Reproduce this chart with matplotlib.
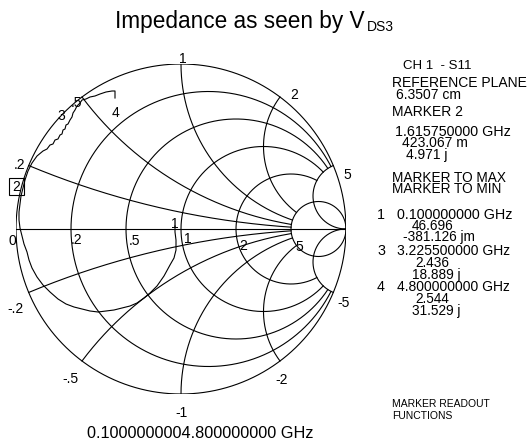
import matplotlib
matplotlib.use("Agg")
import matplotlib.pyplot as plt
import numpy as np
from matplotlib.patches import Rectangle

# ---------------- data ----------------
resistance_values = [0.2, 0.5, 1, 2]      # clipped at |x| <= grid_limit
reactance_values = [0.2, 0.5, 1, 2]       # clipped at r <= grid_limit
grid_limit = 5                             # r = 5 circle and x = +/-5 arcs drawn full

# measured S11 locus (reflection coefficient, real / imaginary)
trace_re = [-0.0364, -0.0364, -0.0303, -0.0303, -0.0424, -0.0667, -0.1030, -0.1455,
            -0.1879, -0.2242, -0.2667, -0.3091, -0.3576, -0.4061, -0.4545, -0.5030,
            -0.5515, -0.6000, -0.6485, -0.6970, -0.7455, -0.7939, -0.8364, -0.8727,
            -0.9030, -0.9212, -0.9333, -0.9515, -0.9636, -0.9758, -0.9818, -0.9818,
            -0.9758, -0.9697, -0.9576, -0.9455, -0.9273, -0.9030, -0.8727, -0.8364,
            -0.8121, -0.7939, -0.7758, -0.7636, -0.7455, -0.7333, -0.7212, -0.7152,
            -0.7030, -0.6970, -0.6848, -0.6727, -0.6606, -0.6545, -0.6424, -0.6303,
            -0.6121, -0.6000, -0.5758, -0.5515, -0.5212, -0.4909, -0.4545, -0.4182,
            -0.4000, -0.4000]
trace_im = [0.0182, -0.0182, -0.0667, -0.1273, -0.1758, -0.2182, -0.2848, -0.3455,
            -0.3879, -0.4182, -0.4485, -0.4667, -0.4788, -0.4909, -0.4970, -0.5030,
            -0.4970, -0.4848, -0.4727, -0.4545, -0.4242, -0.3818, -0.3394, -0.2909,
            -0.2364, -0.1879, -0.1394, -0.0909, -0.0424, 0.0061, 0.0545, 0.1030,
            0.1515, 0.2000, 0.2485, 0.2970, 0.3515, 0.4000, 0.4424, 0.4727,
            0.4848, 0.5091, 0.5152, 0.5394, 0.5455, 0.5697, 0.5758, 0.6000,
            0.6061, 0.6303, 0.6364, 0.6606, 0.6788, 0.7030, 0.7212, 0.7455,
            0.7636, 0.7818, 0.7879, 0.8000, 0.8061, 0.8182, 0.8303, 0.8364,
            0.8364, 0.7939]

title_main = "Impedance as seen by V"
title_sub = "DS3"

grid_labels = ["1", "2", "5", "-5", "-2", "-1", "-.5", "-.2", "0", ".2", ".5",
               "1", "2", "5", ".2", ".5"]
marker_labels = ["1", "3", "4"]

panel_lines = ["CH 1  - S11", "REFERENCE PLANE", "6.3507 cm", "MARKER 2",
               "1.615750000 GHz", "423.067 m", "4.971 j",
               "MARKER TO MAX", "MARKER TO MIN",
               "0.100000000 GHz", "46.696", "-381.126 jm",
               "3.225500000 GHz", "2.436", "18.889 j",
               "4.800000000 GHz", "2.544", "31.529 j",
               "MARKER READOUT", "FUNCTIONS"]
panel_index = ["1", "3", "4"]
freq_span_text = "0.1000000004.800000000 GHz"

# ---------------- layout (pixels) ----------------
W, H = 529, 442
CX, CY, R = 181, 229, 165

plt.rcParams["font.family"] = ["Liberation Sans", "DejaVu Sans"]
fig = plt.figure(figsize=(W / 100, H / 100), dpi=100)
fig.patch.set_facecolor("white")
ax = fig.add_axes([(CX - R) / W, (H - CY - R) / H, 2 * R / W, 2 * R / H])
ax.set_xlim(-1, 1)
ax.set_ylim(-1, 1)
ax.axis("off")

LW = 0.8
K = "black"


def gam(z):
    return (z - 1) / (z + 1)


# outer circle
th = np.linspace(0, 2 * np.pi, 721)
ax.plot(np.cos(th), np.sin(th), color=K, lw=LW)
# real axis
ax.plot([-1, 1], [0, 0], color=K, lw=LW)
# clipped resistance circles
xs = np.linspace(-grid_limit, grid_limit, 2001)
for r in resistance_values:
    g = gam(r + 1j * xs)
    ax.plot(g.real, g.imag, color=K, lw=LW)
# full r = grid_limit circle
rc, rr = grid_limit / (1 + grid_limit), 1 / (1 + grid_limit)
ax.plot(rc + rr * np.cos(th), rr * np.sin(th), color=K, lw=LW)
# clipped reactance arcs
rs = np.linspace(0, grid_limit, 1001)
for xv in reactance_values:
    for s in (1, -1):
        g = gam(rs + 1j * s * xv)
        ax.plot(g.real, g.imag, color=K, lw=LW)
# full x = +/- grid_limit arcs
rinf = np.tan(np.linspace(0, np.pi / 2 - 1e-4, 2001))
for s in (1, -1):
    g = gam(rinf + 1j * s * grid_limit)
    ax.plot(g.real, g.imag, color=K, lw=LW)

# trace
ax.plot(trace_re, trace_im, color=K, lw=LW)

# marker 2 box
ax.add_patch(Rectangle((-1.042, 0.206), 0.09, 0.103, fill=False, ec=K, lw=LW,
                       clip_on=False))

renderer = fig.canvas.get_renderer()


def ptext(s, x, y, size=10, ha="center", va="center"):
    return fig.text(x / W, 1 - y / H, s, fontsize=size, ha=ha, va=va, color=K)


def fit_text(s, x, y, width, factor=0.95, va="center"):
    t = fig.text(x / W, 1 - y / H, s, fontsize=10, ha="left", va=va, color=K)
    w = t.get_window_extent(renderer).width
    t.set_fontsize(10 * width / w * factor)
    return t


# grid labels
grid_pos = [(183, 59), (294, 95), (347, 175), (344, 303), (282, 380), (182, 413),
            (70, 379), (16, 309), (12, 241), (77, 240), (134, 241), (188, 239),
            (243, 246), (299, 247), (20, 165), (76, 103)]
for s, (x, y) in zip(grid_labels, grid_pos):
    ptext(s, x, y)

# marker labels
for s, (x, y) in zip(marker_labels, [(175, 224), (61, 116), (116, 113)]):
    ptext(s, x, y)
ptext("2", 16.5, 187)

# title
t = fit_text(title_main, 115, 28, 263, va="baseline")
x_end = t.get_window_extent(renderer).x1
fig.text((x_end + 2) / W, 1 - 31 / H, title_sub, fontsize=10, ha="left",
         va="baseline", color=K)

# right panel (left x, centre y, font size)
panel_geom = [(403, 66, 9.5), (392, 83, 10), (396, 95, 10), (392, 112, 10),
              (395, 132, 10.3), (402, 143, 10), (406, 155, 10),
              (392, 178, 9.8), (392, 189, 9.8),
              (397, 215, 10.3), (412, 226, 9.8), (403, 237, 9.8),
              (397, 251, 10), (415, 263, 9.8), (412, 275, 9.8),
              (397, 287, 10), (415, 299, 9.8), (412, 311, 9.8),
              (392, 404, 7.5), (392, 416, 7.5)]
for s, (x, y, fs) in zip(panel_lines, panel_geom):
    ptext(s, x, y, size=fs, ha="left")
for s, y in zip(panel_index, [215, 251, 287]):
    ptext(s, 381, y, size=10.3)

# bottom frequency span
fit_text(freq_span_text, 87, 438, 239, va="baseline")

fig.savefig("out.png", dpi=100, facecolor="white")
